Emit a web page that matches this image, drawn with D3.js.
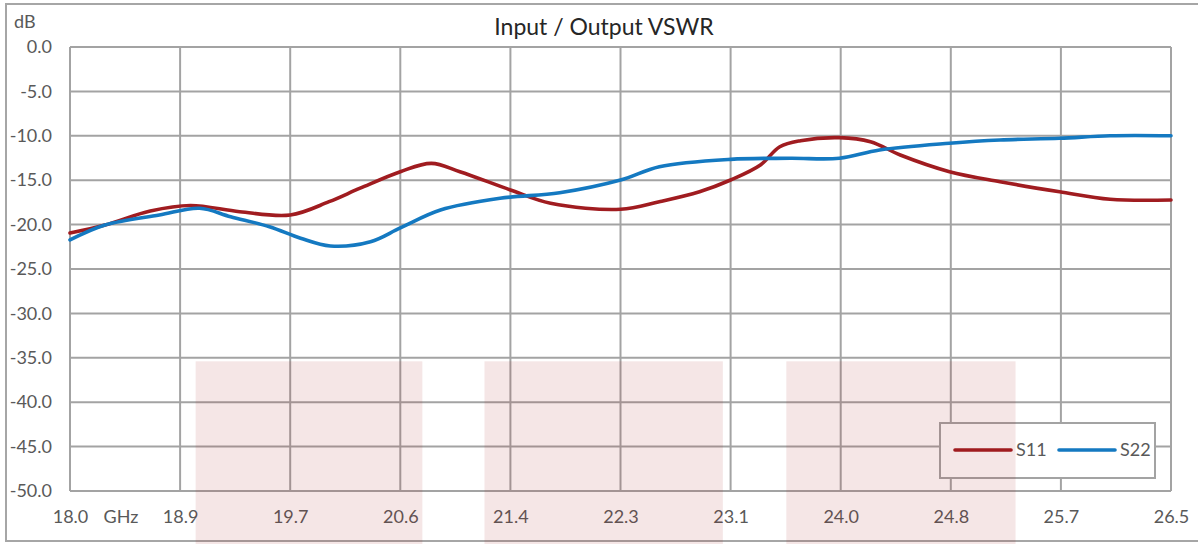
<!DOCTYPE html>
<html><head><meta charset="utf-8">
<script src="https://cdn.jsdelivr.net/npm/d3@7"></script>
<style>body{margin:0;background:#fff;} svg{display:block;font-family:Lato,"Open Sans",sans-serif;}</style>
</head><body>
<svg id="c" width="1198" height="544"></svg>
<script>
const xTickValues = [18.0, 18.85, 19.7, 20.55, 21.4, 22.25, 23.1, 23.95, 24.8, 25.65, 26.5];
const xTickLabels = ["18.0", "18.9", "19.7", "20.6", "21.4", "22.3", "23.1", "24.0", "24.8", "25.7", "26.5"];
const yTickValues = [0, -5, -10, -15, -20, -25, -30, -35, -40, -45, -50];
const yTickLabels = ["0.0", "-5.0", "-10.0", "-15.0", "-20.0", "-25.0", "-30.0", "-35.0", "-40.0", "-45.0", "-50.0"];
const s11Freq = [18.00,18.27,18.62,18.93,19.31,19.70,20.00,20.24,20.55,20.79,21.01,21.40,21.71,22.25,22.55,22.86,23.10,23.33,23.48,23.64,23.94,24.18,24.41,24.79,25.18,25.64,26.03,26.50];
const s11dB   = [-20.95,-20.05,-18.47,-17.85,-18.55,-18.92,-17.42,-15.9,-14.04,-13.10,-14.04,-16.10,-17.60,-18.28,-17.42,-16.30,-14.98,-13.29,-11.23,-10.55,-10.21,-10.66,-12.16,-14.04,-15.17,-16.30,-17.15,-17.23];
const s22Freq = [18.00,18.27,18.69,19.00,19.24,19.54,19.78,20.01,20.32,20.55,20.86,21.32,21.78,22.25,22.55,23.10,23.56,23.94,24.25,24.79,25.18,25.64,26.03,26.50];
const s22dB   = [-21.73,-20.05,-18.92,-18.16,-19.11,-20.24,-21.54,-22.41,-21.93,-20.38,-18.36,-17.04,-16.41,-14.98,-13.48,-12.65,-12.53,-12.53,-11.60,-10.84,-10.47,-10.28,-9.99,-9.99];
const bandStart = [18.97, 21.20, 23.53];
const bandEnd   = [20.72, 23.04, 25.30];
const bandTop   = -35.4;
const seriesNames = ["S11", "S22"];

const W = 1198, H = 544;
const svg = d3.select("#c");
const x = d3.scaleLinear().domain([18, 26.5]).range([70, 1171]);
const y = d3.scaleLinear().domain([0, -50]).range([47, 491]);
const grid = "#a3a3a3", txt = "#595959";
const colors = ["#a01c20", "#1479c1"];
const fs = 18;

// outer border
svg.append("path").attr("d", `M${W+5},4 H6 V541 H${W+5}`)
  .attr("fill", "none").attr("stroke", "#a6a6a6").attr("stroke-width", 2);

// gridlines
svg.append("g").selectAll("line").data(yTickValues).join("line")
  .attr("x1", x(18)).attr("x2", x(26.5)).attr("y1", d => y(d)).attr("y2", d => y(d))
  .attr("stroke", grid).attr("stroke-width", 2);
svg.append("g").selectAll("line").data(xTickValues).join("line")
  .attr("x1", d => x(d)).attr("x2", d => x(d)).attr("y1", y(0)).attr("y2", y(-50))
  .attr("stroke", grid).attr("stroke-width", 2);

// axes labels via d3 axes (no lines)
const yAxis = svg.append("g").attr("transform", `translate(${x(18)},0)`)
  .call(d3.axisLeft(y).tickValues(yTickValues).tickSize(0).tickPadding(18)
    .tickFormat((d, i) => yTickLabels[i]));
yAxis.select(".domain").remove();
yAxis.selectAll("text").attr("fill", txt).attr("font-size", fs).attr("font-family", "Lato");

const xAxis = svg.append("g").attr("transform", `translate(0,${y(-50)})`)
  .call(d3.axisBottom(x).tickValues(xTickValues).tickSize(0).tickPadding(19)
    .tickFormat((d, i) => xTickLabels[i]));
xAxis.select(".domain").remove();
xAxis.selectAll("text").attr("fill", txt).attr("font-size", fs).attr("font-family", "Lato");

svg.append("text").attr("x", 121).attr("y", 523).attr("text-anchor", "middle")
  .attr("fill", txt).attr("font-size", fs).text("GHz");
svg.append("text").attr("x", 14).attr("y", 28)
  .attr("fill", txt).attr("font-size", fs).text("dB");

// title
svg.append("text").attr("x", 604).attr("y", 35).attr("text-anchor", "middle")
  .attr("fill", "#262626").attr("font-size", 23).text("Input / Output VSWR");

// lines
const line = d3.line().x(d => x(d[0])).y(d => y(d[1])).curve(d3.curveCatmullRom.alpha(0.5));
const s11 = s11Freq.map((f, i) => [f, s11dB[i]]);
const s22 = s22Freq.map((f, i) => [f, s22dB[i]]);
[s11, s22].forEach((s, i) => {
  svg.append("path").datum(s).attr("d", line).attr("fill", "none")
    .attr("stroke", colors[i]).attr("stroke-width", 3.6).attr("stroke-linecap", "round");
});

// legend
const lg = svg.append("g");
lg.append("rect").attr("x", 940).attr("y", 423).attr("width", 215).attr("height", 55)
  .attr("fill", "#fff").attr("stroke", grid).attr("stroke-width", 2);
seriesNames.forEach((n, i) => {
  const lx = 955 + i * 104;
  lg.append("line").attr("x1", lx).attr("x2", lx + 56).attr("y1", 450).attr("y2", 450)
    .attr("stroke", colors[i]).attr("stroke-width", 3.6).attr("stroke-linecap", "round");
  lg.append("text").attr("x", lx + 61).attr("y", 456).attr("fill", txt).attr("font-size", fs).text(n);
});

// shaded bands (overlay)
svg.append("g").selectAll("rect").data(bandStart).join("rect")
  .attr("x", d => x(d)).attr("width", (d, i) => x(bandEnd[i]) - x(d))
  .attr("y", y(bandTop)).attr("height", d => H - y(bandTop))
  .attr("fill", "rgb(160,30,30)").attr("fill-opacity", 0.11);
</script>
</body></html>
